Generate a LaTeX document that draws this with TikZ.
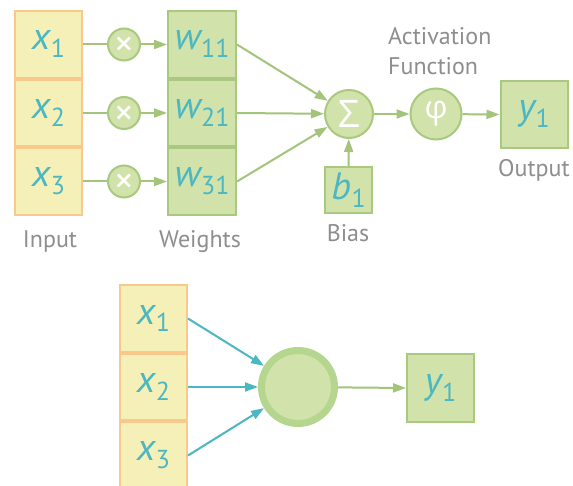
\documentclass[tikz,border=0pt]{standalone}
\usepackage{fontspec}
\setmainfont{PT Sans}
\newfontfamily\greekfont{Open Sans}
\newfontfamily\symfont{DejaVu Sans}
\usetikzlibrary{arrows.meta}
\definecolor{inYellow}{HTML}{F5F0B8}
\definecolor{inOrange}{HTML}{F8C98A}
\definecolor{wFill}{HTML}{D1E2AA}
\definecolor{wBorder}{HTML}{A9C980}
\definecolor{lineGreen}{HTML}{A3C47A}
\definecolor{tealc}{HTML}{4BB7C3}
\definecolor{labelGray}{HTML}{8E8E8E}
\definecolor{circBorder}{HTML}{B5D68E}
\newcommand\myvar[2]{\raisebox{-3pt}{{\fontsize{38}{38}\selectfont\itshape #1}\kern0.5pt\raisebox{-8pt}{\fontsize{26}{26}\selectfont #2}}}
\newcommand\timessym{{\symfont\fontsize{24}{24}\selectfont\bfseries ×}}
\tikzset{
  incell/.style={rectangle, draw=inOrange, fill=inYellow, line width=2pt, minimum width=67pt, minimum height=66.5pt, inner sep=0pt, text=tealc},
  wcell/.style={rectangle, draw=wBorder, fill=wFill, line width=2pt, minimum width=68pt, minimum height=66.5pt, inner sep=0pt, text=tealc},
  opcirc/.style={circle, draw=wBorder, fill=wFill, line width=2pt, inner sep=0pt, text=white},
  lbl/.style={text=labelGray, font=\fontsize{24}{24}\selectfont, inner sep=0pt},
  conn/.style={draw=lineGreen, line width=2pt},
  arr/.style={conn, -{Triangle[length=13pt, width=9pt]}},
  tarr/.style={draw=tealc, line width=2pt, -{Triangle[length=13pt, width=9pt]}},
}
\begin{document}
\begin{tikzpicture}[x=1pt, y=-1pt]
\clip (0,0) rectangle (573,486);
\fill[white] (0,0) rectangle (573,486);
% ---------- top ----------
\node[incell] (in1) at (48.5,44.5) {\myvar{x}{1}};
\node[incell] (in2) at (48.5,113) {\myvar{x}{2}};
\node[incell] (in3) at (48.5,181.5) {\myvar{x}{3}};
\node[opcirc, minimum size=32pt] (m1) at (124,44.5) {\timessym};
\node[opcirc, minimum size=32pt] (m2) at (124,113) {\timessym};
\node[opcirc, minimum size=32pt] (m3) at (124,181.5) {\timessym};
\node[wcell] (w1) at (202,44.5) {\myvar{w}{11}};
\node[wcell] (w2) at (202,113) {\myvar{w}{21}};
\node[wcell] (w3) at (202,181.5) {\myvar{w}{31}};
\node[opcirc, minimum size=48pt] (sum) at (349,114) {\greekfont\fontsize{38}{38}\selectfont Σ};
\node[opcirc, minimum size=51pt] (phi) at (436,114) {\greekfont\fontsize{32}{32}\selectfont φ};
\node[wcell, minimum width=67pt, minimum height=67pt] (out) at (534,114.5) {\myvar{y}{1}};
\node[wcell, minimum width=47pt, minimum height=46pt] (bias) at (348.5,190) {\myvar{b}{1}};
\node[lbl, anchor=base] (linput) at (50,248) {Input};
\node[lbl, anchor=base] (lweights) at (200,248) {Weights};
\node[lbl, anchor=base] (lbias) at (348,242) {Bias};
\node[lbl, anchor=base] (loutput) at (534,177) {Output};
\node[lbl, anchor=base west] (lact) at (388,45) {Activation};
\node[lbl, anchor=base west] (lfun) at (388,75) {Function};
\foreach \i in {1,2,3} {
  \draw[conn] (in\i.east) -- (m\i);
  \draw[arr] (m\i) -- (w\i.west);
  \draw[arr] (w\i.east) -- (sum);
}
\draw[arr] (sum) -- (phi);
\draw[arr] (phi) -- (out.west);
\draw[arr] (bias.north) -- (sum);
% ---------- bottom ----------
\node[incell] (b1) at (153.5,318.5) {\myvar{x}{1}};
\node[incell] (b2) at (153.5,387) {\myvar{x}{2}};
\node[incell] (b3) at (153.5,455.5) {\myvar{x}{3}};
\node[circle, draw=circBorder, fill=wFill, line width=7pt, minimum size=73pt, inner sep=0pt] (neuron) at (298,387) {};
\node[wcell, minimum width=67pt, minimum height=68pt] (bout) at (440.5,388) {\myvar{y}{1}};
\foreach \i in {1,2,3} {
  \draw[tarr] (b\i.east) -- (neuron);
}
\draw[arr] (neuron) -- (bout.west);
\end{tikzpicture}
\end{document}
